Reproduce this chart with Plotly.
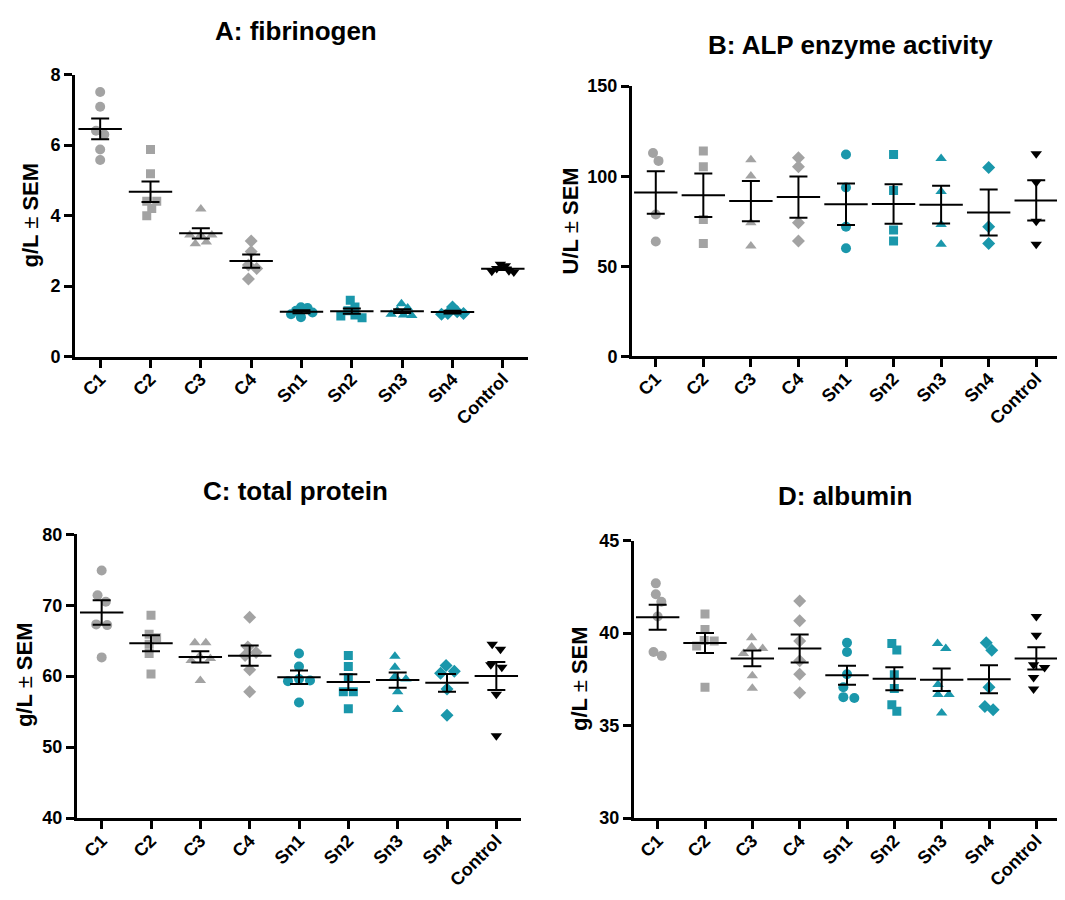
import numpy as np
import plotly.graph_objects as go

# ---------------- data ----------------
groups = ["C1", "C2", "C3", "C4", "Sn1", "Sn2", "Sn3", "Sn4", "Control"]

fibrinogen = [
    [7.51, 7.09, 6.41, 6.30, 5.88, 5.58],
    [5.88, 5.19, 4.41, 4.41, 4.20, 4.00],
    [4.19, 3.45, 3.45, 3.45, 3.25, 3.20],
    [3.28, 2.98, 2.60, 2.50, 2.20],
    [1.40, 1.38, 1.30, 1.25, 1.20, 1.12],
    [1.60, 1.41, 1.30, 1.18, 1.15, 1.10],
    [1.50, 1.38, 1.30, 1.20, 1.18, 1.17],
    [1.41, 1.27, 1.22, 1.22, 1.20],
    [2.62, 2.58, 2.50, 2.44, 2.42, 2.40],
]
alp_activity = [
    [112.9, 108.5, 78.7, 63.7],
    [114.0, 105.2, 75.9, 62.7],
    [109.2, 100.1, 74.1, 61.3],
    [110.3, 105.2, 74.1, 64.0],
    [112.1, 93.7, 71.9, 60.0],
    [112.1, 92.0, 70.1, 64.0],
    [109.8, 91.5, 73.2, 62.2],
    [104.8, 71.9, 62.7],
    [112.5, 96.6, 75.0, 62.2],
]
total_protein = [
    [74.9, 71.4, 70.5, 67.3, 67.2, 62.65],
    [68.6, 65.9, 65.4, 64.5, 63.2, 60.3],
    [64.7, 64.7, 62.8, 62.5, 62.2, 59.4],
    [68.3, 64.1, 63.35, 62.9, 60.9, 57.8],
    [63.2, 61.35, 59.6, 59.4, 59.3, 56.3],
    [62.9, 61.35, 59.8, 57.8, 57.8, 55.4],
    [62.8, 61.25, 59.95, 59.6, 57.8, 55.3],
    [61.5, 60.7, 60.4, 58.2, 54.5],
    [64.5, 63.8, 61.6, 61.25, 57.45, 51.6],
]
albumin = [
    [42.69, 42.1, 41.7, 40.9, 38.98, 38.77],
    [41.03, 40.19, 39.6, 39.57, 39.3, 37.07],
    [39.75, 39.25, 39.17, 38.9, 37.7, 37.02],
    [41.74, 40.67, 39.57, 38.5, 37.78, 36.77],
    [39.48, 38.98, 37.78, 37.07, 36.54, 36.49],
    [39.44, 39.09, 37.75, 37.0, 36.13, 35.78],
    [39.44, 39.17, 37.22, 36.68, 36.68, 35.68],
    [39.48, 39.07, 37.07, 36.04, 35.86],
    [40.9, 39.89, 38.29, 38.14, 37.6, 36.98],
]

# ---------------- styles / layout ----------------
W, H = 1065, 900
OFF = 8  # page body margin compensation (px)
GRAY = "#a3a3a3"
TEAL = "#1a97ab"
symbols = ["circle", "square", "triangle-up", "diamond"] * 2 + ["triangle-down"]
sizes = {"circle": 10, "square": 9, "triangle-up": 10, "diamond": 10, "triangle-down": 10}
colors = [GRAY] * 4 + [TEAL] * 4 + ["black"]
FONT = "Liberation Sans, Arial, sans-serif"
PM = '<span style="font-weight:normal">±</span>'

panels = [
    dict(title="A: fibrinogen", data=fibrinogen, ylabel=f"g/L {PM} SEM",
         yrange=(0, 8), dtick=2, box=(75, 528, 66, 354.3),
         title_xy=(296, 21), ylab_xy=(31, 210)),
    dict(title="B: ALP enzyme activity", data=alp_activity, ylabel=f"U/L {PM} SEM",
         yrange=(0, 150), dtick=50, box=(632, 1060, 77.7, 354),
         title_xy=(850, 36), ylab_xy=(570, 216)),
    dict(title="C: total protein", data=total_protein, ylabel=f"g/L {PM} SEM",
         yrange=(40, 80), dtick=10, box=(77, 521, 536, 826.3),
         title_xy=(296, 492), ylab_xy=(24, 680)),
    dict(title="D: albumin", data=albumin, ylabel=f"g/L {PM} SEM",
         yrange=(30, 45), dtick=5, box=(634, 1060, 542.5, 826.3),
         title_xy=(845, 497), ylab_xy=(580, 684)),
]


def swarm(vals, ppu, ppx, d, max_half=11.0):
    """Simple beeswarm: horizontal offsets (in x units) so markers don't overlap much."""
    vals = np.asarray(vals, float)
    ys = vals * ppu
    order = np.argsort(-vals)
    step = d * 0.25
    cands = [0.0]
    for n in range(1, 60):
        cands += [n * step, -n * step]
    placed = []
    offs = np.zeros(len(vals))
    for i in order:
        for c in cands:
            if all((c - ox) ** 2 + (ys[i] - oy) ** 2 >= (0.8 * d) ** 2 for ox, oy in placed):
                break
        placed.append((c, ys[i]))
        offs[i] = c
    clusters = [[order[0]]]
    for a, b in zip(order, order[1:]):
        if ys[a] - ys[b] < d * 1.1:
            clusters[-1].append(b)
        else:
            clusters.append([b])
    for cl in clusters:
        if len(cl) == 1:
            offs[cl] = 0.0
        else:
            offs[cl] -= offs[cl].mean()
            half = np.abs(offs[cl]).max()
            if half > max_half:
                offs[cl] *= max_half / half
    return offs / ppx


fig = go.Figure()
annotations = []
layout = {}

for k, p in enumerate(panels):
    sx = "" if k == 0 else str(k + 1)
    xa, ya = "x" + sx, "y" + sx
    x0, x1, ytop, ybot = p["box"]
    x0, x1, ytop, ybot = x0 - OFF, x1 - OFF, ytop - OFF, ybot - OFF
    ymin, ymax = p["yrange"]
    ppu = (ybot - ytop) / (ymax - ymin)
    ppx = (x1 - x0) / 9.0

    for i, vals in enumerate(p["data"]):
        sym = symbols[i]
        offs = swarm(vals, ppu, ppx, sizes[sym] + 1)
        fig.add_trace(go.Scatter(
            x=i + offs, y=vals, mode="markers", xaxis=xa, yaxis=ya,
            marker=dict(symbol=sym, size=sizes[sym], color=colors[i], line=dict(width=0)),
            showlegend=False, hoverinfo="skip"))

    for i, vals in enumerate(p["data"]):
        v = np.asarray(vals, float)
        m = v.mean()
        sem = v.std(ddof=1) / np.sqrt(len(v))
        fig.add_trace(go.Scatter(
            x=[i], y=[m], mode="markers", xaxis=xa, yaxis=ya,
            marker=dict(symbol="line-ew", size=31, color="black",
                        line=dict(width=2, color="black")),
            error_y=dict(type="data", array=[sem], visible=True, thickness=2,
                         width=9, color="black"),
            showlegend=False, hoverinfo="skip"))

    layout["xaxis" + sx] = dict(
        domain=[x0 / W, x1 / W], range=[-0.5, 8.5], anchor=ya,
        tickmode="array", tickvals=list(range(9)), ticktext=groups, tickangle=-45,
        showline=True, linewidth=3, linecolor="black", ticks="outside", ticklen=8,
        tickwidth=2.5, tickcolor="black", showgrid=False, zeroline=False,
        ticklabelstandoff=-6,
        tickfont=dict(family=FONT, size=18, color="black", weight="bold"),
        fixedrange=True)
    layout["yaxis" + sx] = dict(
        domain=[1 - ybot / H, 1 - ytop / H], range=[ymin, ymax], anchor=xa,
        tickmode="linear", tick0=ymin, dtick=p["dtick"],
        showline=True, linewidth=3, linecolor="black", ticks="outside", ticklen=8,
        tickwidth=2.5, tickcolor="black", showgrid=False, zeroline=False,
        tickfont=dict(family=FONT, size=18, color="black", weight="bold"),
        fixedrange=True)

    tx, ty = p["title_xy"]
    annotations.append(dict(
        text=p["title"], x=(tx - OFF) / W, y=1 - (ty - OFF) / H, xref="paper", yref="paper",
        showarrow=False, xanchor="center", yanchor="middle",
        font=dict(family=FONT, size=26, color="black", weight="bold")))
    lx, ly = p["ylab_xy"]
    annotations.append(dict(
        text=p["ylabel"], x=(lx - OFF) / W, y=1 - (ly - OFF) / H, xref="paper", yref="paper",
        showarrow=False, xanchor="center", yanchor="middle", textangle=-90,
        font=dict(family=FONT, size=22, color="black", weight="bold")))

fig.update_layout(
    width=W, height=H, margin=dict(l=0, r=0, t=0, b=0),
    paper_bgcolor="white", plot_bgcolor="white",
    annotations=annotations, showlegend=False, **layout)

fig.write_html("out.html")
